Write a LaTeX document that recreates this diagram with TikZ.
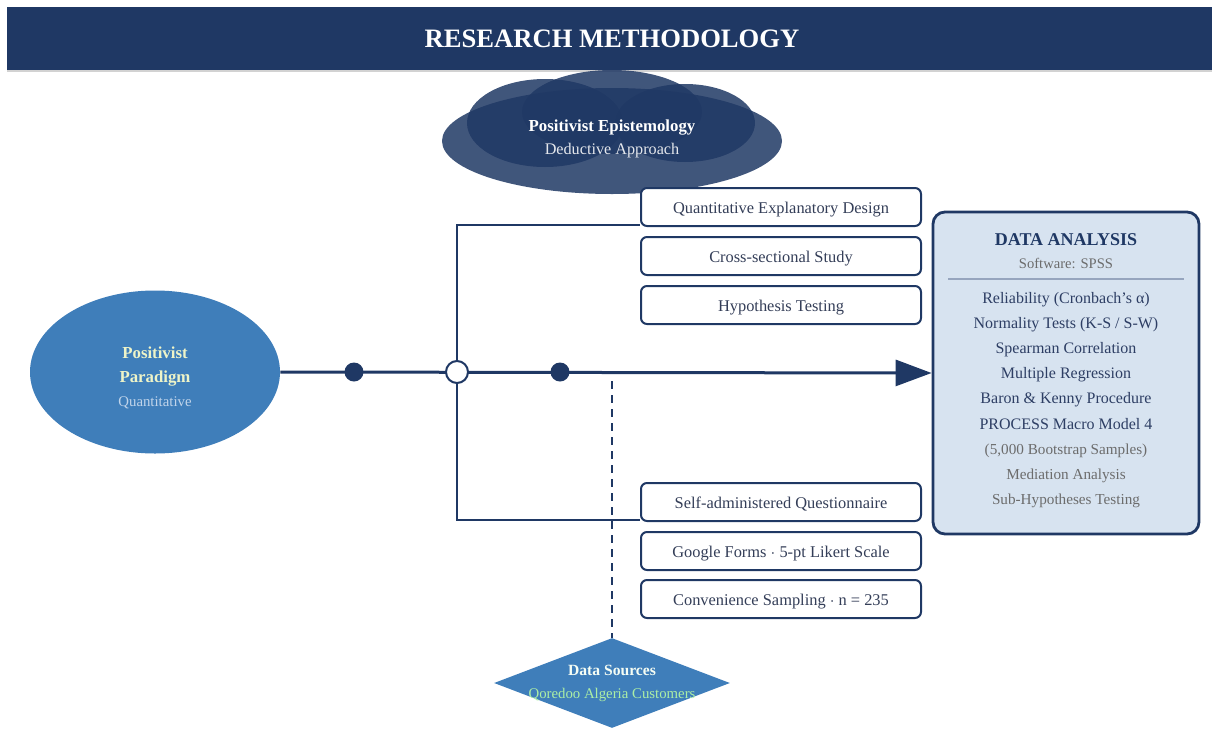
\documentclass[tikz,border=0pt]{standalone}
\usepackage{fontspec}
\setmainfont{Liberation Serif}
\usetikzlibrary{shapes.geometric,arrows.meta,positioning,calc}
\definecolor{navycol}{RGB}{31,56,100}
\definecolor{paracol}{RGB}{63,126,186}
\definecolor{boxtext}{RGB}{52,62,88}
\definecolor{panelcol}{RGB}{215,227,240}
\definecolor{greytext}{RGB}{108,108,108}
\definecolor{itemcol}{RGB}{45,62,100}
\definecolor{rulecol}{RGB}{150,165,190}
\definecolor{paratext}{RGB}{238,244,200}
\definecolor{parasub}{RGB}{192,212,234}
\definecolor{srctext}{RGB}{172,238,165}

\begin{document}
\begin{tikzpicture}[
    x=0.5pt, y=-0.5pt,
    >={Triangle[length=18pt, width=13pt]},
    stepbox/.style={rectangle, rounded corners=3pt, draw=navycol, line width=1pt, fill=white, minimum width=140pt, minimum height=19pt, text height=6pt, text depth=0pt, font=\fontsize{8.2}{10}\selectfont, text=boxtext},
    dot/.style={circle, fill=navycol, minimum size=9.5pt, inner sep=0pt},
    blob/.style={fill=navycol, fill opacity=0.85},
    link/.style={navycol, line width=1pt},
]
\useasboundingbox (0,0) rectangle (1212,729);

% title bar
\fill[navycol] (7,7) rectangle (1212,70);
\draw[gray!35, line width=1pt] (7,71) -- (1212,71);
\node[font=\fontsize{13.3}{16}\selectfont\bfseries, text=white] (title) at (612,39) {RESEARCH METHODOLOGY};

% epistemology cloud
\fill[blob] (612,141) ellipse [x radius=85pt, y radius=26.5pt];
\fill[blob] (612,112) ellipse [x radius=45pt, y radius=21pt];
\fill[blob] (545,123) ellipse [x radius=39pt, y radius=22pt];
\fill[blob] (685,123) ellipse [x radius=35pt, y radius=19.5pt];
\node[align=center, text=white, font=\fontsize{8.4}{11.5}\selectfont] (episteme) at (612,139)
  {\textbf{Positivist Epistemology}\\{\fontsize{8.1}{11.5}\selectfont\color{white!88!navycol}Deductive Approach}};

% paradigm
\node[ellipse, fill=paracol, minimum width=125pt, minimum height=81.5pt, inner sep=0pt] (paradigm) at (155,372) {};
\node[align=center, font=\fontsize{8.4}{12}\selectfont\bfseries, text=paratext] (paratxt) at (155,378)
  {Positivist\\Paradigm\\{\fontsize{7.4}{12}\selectfont\mdseries\color{parasub}Quantitative}};

% design boxes
\node[stepbox] (design) at (781,207) {Quantitative Explanatory Design};
\node[stepbox] (cross)  at (781,256) {Cross-sectional Study};
\node[stepbox] (hypo)   at (781,305) {Hypothesis Testing};
\node[stepbox] (quest)  at (781,502) {Self-administered Questionnaire};
\node[stepbox] (forms)  at (781,551) {Google Forms $\cdot$ 5-pt Likert Scale};
\node[stepbox] (sample) at (781,599) {Convenience Sampling $\cdot$ n = 235};

% data analysis panel
\node[rectangle, rounded corners=6pt, draw=navycol, line width=1.4pt, fill=panelcol, minimum width=133pt, minimum height=161pt] (analysis) at (1066,373) {};
\node[font=\fontsize{9}{11}\selectfont\bfseries, text=navycol] (antitle) at (1066,240) {DATA ANALYSIS};
\node[font=\fontsize{7.3}{9}\selectfont, text=greytext] (software) at (1066,263) {Software: SPSS};
\draw[rulecol, line width=0.7pt] (948,279) -- (1184,279);
\node[align=center, font=\fontsize{8}{12.6}\selectfont, text=itemcol] (methods) at (1066,400)
  {Reliability (Cronbach's α)\\Normality Tests (K-S / S-W)\\Spearman Correlation\\Multiple Regression\\Baron \& Kenny Procedure\\PROCESS Macro Model 4\\
   {\fontsize{7.6}{12.6}\selectfont\color{greytext}(5,000 Bootstrap Samples)}\\
   {\fontsize{7.6}{12.6}\selectfont\color{greytext}Mediation Analysis}\\
   {\fontsize{7.6}{12.6}\selectfont\color{greytext}Sub-Hypotheses Testing}};

% data sources
\node[diamond, fill=paracol, minimum width=118pt, minimum height=45pt, inner sep=0pt] (source) at (612,683) {};
\node[align=center, font=\fontsize{7.8}{11.5}\selectfont] (srctxt) at (612,683)
  {{\bfseries\color{white!88!srctext}Data Sources}\\{\fontsize{7.4}{11.5}\selectfont\color{srctext}Qoredoo Algeria Customers}};

% connectors
\coordinate (dashtop) at (612,381);
\draw[link, dash pattern=on 4pt off 3pt] (dashtop) -- (source.north);
\draw[navycol, line width=1.5pt, ->] (paradigm.east) -- (analysis.west);
\node[circle, draw=navycol, fill=white, line width=1pt, minimum size=11pt, inner sep=0pt] (junc) at (457,372) {};
\draw[link] (junc.north) |- ([yshift=1pt]design.south west);
\draw[link] (junc.south) |- ([yshift=1pt]quest.south west);
\node[dot] (d1) at (354,372) {};
\node[dot] (d2) at (560,372) {};
\end{tikzpicture}
\end{document}
